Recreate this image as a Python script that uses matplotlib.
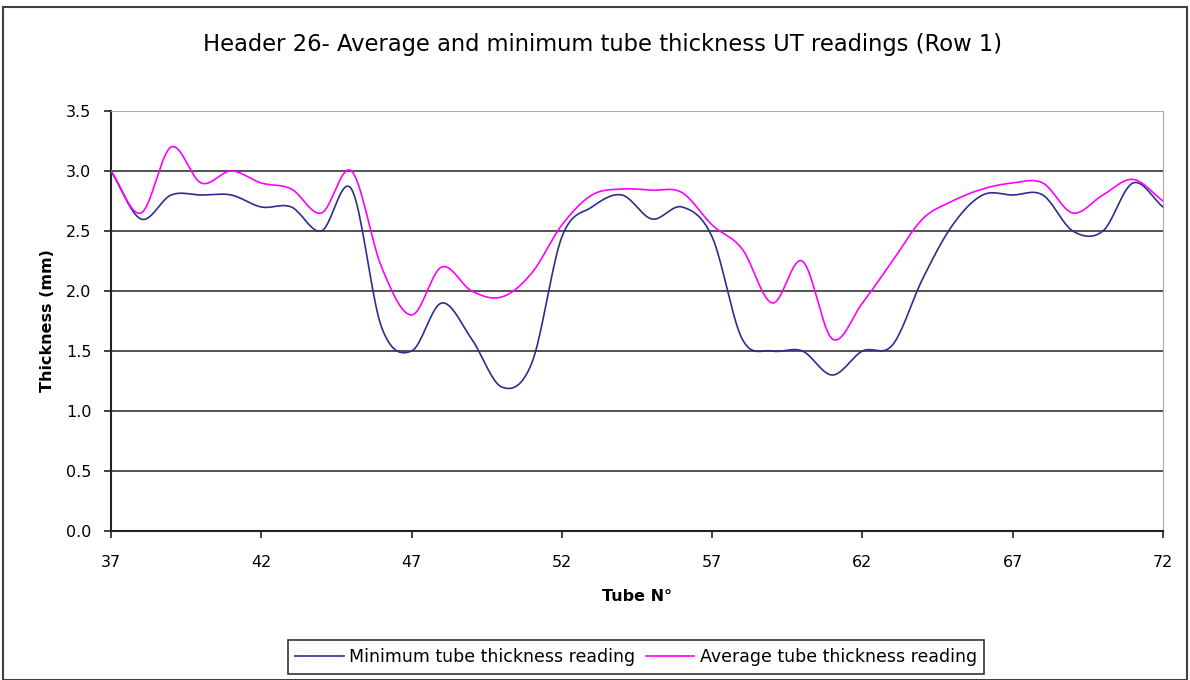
import numpy as np
import matplotlib.pyplot as plt
from matplotlib.patches import Rectangle

plt.rcParams['font.family'] = ['DejaVu Sans']

tubes = list(range(37, 73))
min_thk = [3.0, 2.6, 2.8, 2.8, 2.8, 2.7, 2.7, 2.5, 2.85, 1.7,
           1.5, 1.9, 1.6, 1.2, 1.4, 2.45, 2.7, 2.8, 2.6, 2.7,
           2.45, 1.6, 1.5, 1.5, 1.3, 1.5, 1.55, 2.1, 2.55, 2.8,
           2.8, 2.8, 2.5, 2.5, 2.9, 2.7]
avg_thk = [3.0, 2.65, 3.2, 2.9, 3.0, 2.9, 2.85, 2.65, 3.0, 2.2,
           1.8, 2.2, 2.0, 1.95, 2.15, 2.55, 2.8, 2.85, 2.84, 2.82,
           2.55, 2.35, 1.9, 2.25, 1.6, 1.9, 2.25, 2.6, 2.75, 2.85,
           2.9, 2.9, 2.65, 2.8, 2.93, 2.75]


def smooth(x, y, n=20):
    # catmull-rom, close to excel's "smoothed line"
    x = np.asarray(x, float)
    y = np.asarray(y, float)
    px = np.concatenate([[2 * x[0] - x[1]], x, [2 * x[-1] - x[-2]]])
    py = np.concatenate([[2 * y[0] - y[1]], y, [2 * y[-1] - y[-2]]])
    xs, ys = [], []
    t = np.linspace(0, 1, n, endpoint=False)
    for i in range(1, len(px) - 2):
        for p, out in ((px, xs), (py, ys)):
            p0, p1, p2, p3 = p[i - 1], p[i], p[i + 1], p[i + 2]
            out.extend(0.5 * (2 * p1 + (-p0 + p2) * t
                              + (2 * p0 - 5 * p1 + 4 * p2 - p3) * t ** 2
                              + (-p0 + 3 * p1 - 3 * p2 + p3) * t ** 3))
    xs.append(x[-1])
    ys.append(y[-1])
    return xs, ys


fig = plt.figure(figsize=(11.9, 6.8), dpi=100)
ax = fig.add_axes([111 / 1190, 1 - 531 / 680, 1052 / 1190, 420 / 680])

fig.patches.append(Rectangle((3 / 1190, 0), 1184 / 1190, 1 - 7 / 680,
                             transform=fig.transFigure, fill=False,
                             edgecolor='#404040', lw=1.5))

for yv in np.arange(0.5, 3.01, 0.5):
    ax.axhline(yv, color='#222222', lw=1.1, zorder=1)

sx, sy = smooth(tubes, min_thk)
ax.plot(sx, sy, color='#2e2e8c', lw=1.2, label='Minimum tube thickness reading', zorder=3)
sx, sy = smooth(tubes, avg_thk)
ax.plot(sx, sy, color='#ff00ff', lw=1.2, label='Average tube thickness reading', zorder=3)

ax.set_xlim(37, 72)
ax.set_ylim(0, 3.5)
ax.set_xticks(range(37, 73, 5))
ax.set_yticks(np.arange(0, 3.51, 0.5))
ax.set_yticklabels([f'{v:.1f}' for v in np.arange(0, 3.51, 0.5)])
ax.tick_params(labelsize=11.5, length=5, width=1.2, color='#222222')
ax.tick_params(axis='x', pad=12)
ax.tick_params(axis='y', pad=9)

ax.spines['left'].set_color('#222222')
ax.spines['left'].set_linewidth(1.5)
ax.spines['bottom'].set_color('#222222')
ax.spines['bottom'].set_linewidth(1.5)
ax.spines['top'].set_color('#aaaaaa')
ax.spines['right'].set_color('#aaaaaa')

ax.set_xlabel('Tube N°', fontsize=11.5, fontweight='bold', labelpad=14)
ax.set_ylabel('Thickness (mm)', fontsize=11.5, fontweight='bold', labelpad=8)

fig.text(0.506, 1 - 45 / 680, 'Header 26- Average and minimum tube thickness UT readings (Row 1)',
         ha='center', va='center', fontsize=16.3)

leg = fig.legend(loc='center', bbox_to_anchor=(636 / 1190, 1 - 657 / 680), ncol=2,
                 fontsize=12.5, frameon=True, fancybox=False, edgecolor='black',
                 handlelength=2.8, columnspacing=0.6, handletextpad=0.3,
                 borderpad=0.45)
leg.get_frame().set_linewidth(1.2)

fig.savefig('out.png', dpi=100)
